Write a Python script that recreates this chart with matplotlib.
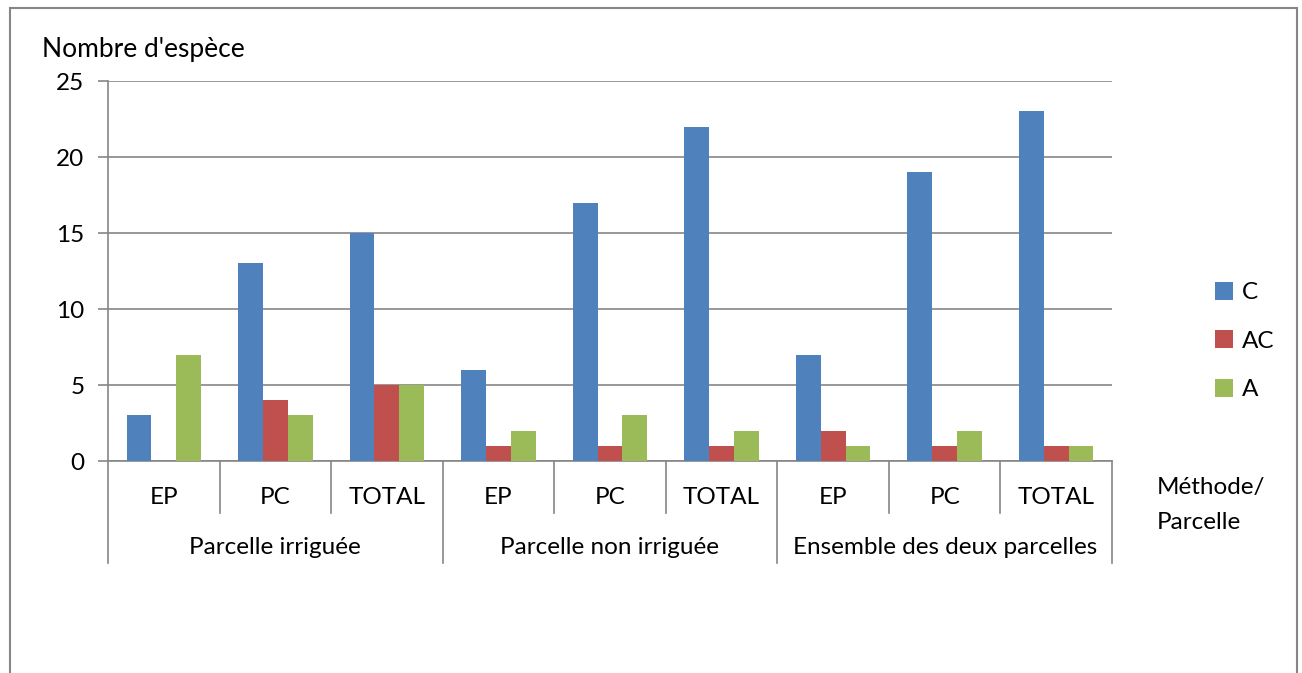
import matplotlib
matplotlib.use("Agg")
import matplotlib.pyplot as plt
from matplotlib.patches import Rectangle
import numpy as np

plt.rcParams['font.family'] = ['Lato', 'DejaVu Sans']

methods = ["EP", "PC", "TOTAL", "EP", "PC", "TOTAL", "EP", "PC", "TOTAL"]
groups = ["Parcelle irriguée", "Parcelle non irriguée", "Ensemble des deux parcelles"]
series_names = ["C", "AC", "A"]
C = [3, 13, 15, 6, 17, 22, 7, 19, 23]
AC = [0, 4, 5, 1, 1, 1, 2, 1, 1]
A = [7, 3, 5, 2, 3, 2, 1, 2, 1]
colors = ["#4F81BD", "#C0504D", "#9BBB59"]

FS = 17.5
W, H = 1302, 673
fig = plt.figure(figsize=(W / 100, H / 100), dpi=100)
ax = fig.add_axes([108 / W, 1 - 461 / H, (1112 - 108) / W, (461 - 81) / H])

x = np.arange(len(methods))
bw = 1 / 4.5
for i, (vals, name, col) in enumerate(zip([C, AC, A], series_names, colors)):
    ax.bar(x + (i - 1) * bw, vals, width=bw, color=col, label=name, zorder=3)

ax.set_xlim(-0.5, len(methods) - 0.5)
ax.set_ylim(0, 25)
ax.set_yticks([0, 5, 10, 15, 20, 25])
ax.grid(axis='y', color='#868686', linewidth=1.2, zorder=0)
for s in ['top', 'right']:
    ax.spines[s].set_visible(False)
ax.spines['left'].set_color('#868686')
ax.spines['bottom'].set_color('#868686')
ax.spines['left'].set_linewidth(1.2)
ax.spines['bottom'].set_linewidth(1.2)
ax.tick_params(axis='y', length=7, width=1.2, color='#868686', labelsize=FS, pad=10)
ax.set_xticks([])

tr = ax.get_xaxis_transform()
axh = 380.0
y1 = -52 / axh
y2 = -102 / axh
for k in range(len(methods) + 1):
    xb = -0.5 + k
    ybot = y2 if k % 3 == 0 else y1
    ax.plot([xb, xb], [0, ybot], color='#868686', lw=1.2, transform=tr, clip_on=False)
for i, m in enumerate(methods):
    ax.text(i, -36 / axh, m, transform=tr, ha='center', va='center', fontsize=FS)
for g, name in enumerate(groups):
    ax.text(3 * g + 1, -86 / axh, name, transform=tr, ha='center', va='center', fontsize=FS)

leg = ax.legend(loc='center left', bbox_to_anchor=(1215 / W, 1 - 341 / H), bbox_transform=fig.transFigure,
                frameon=False, fontsize=FS, handlelength=0.75, handleheight=0.75,
                labelspacing=1.12, handletextpad=0.35, borderaxespad=0, borderpad=0)

fig.text(1157 / W, 1 - 505 / H, "Méthode/\nParcelle", ha='left', va='center', fontsize=FS, linespacing=1.8)
fig.text(42 / W, 1 - 50 / H, "Nombre d'espèce", ha='left', va='center', fontsize=19)

fig.patches.append(Rectangle((9.5 / W, -0.05), (1297 - 9.5) / W, 1 - 8.5 / H + 0.05,
                             transform=fig.transFigure, fill=False, edgecolor='#868686', lw=1.5))

fig.savefig("out.png", dpi=100)
